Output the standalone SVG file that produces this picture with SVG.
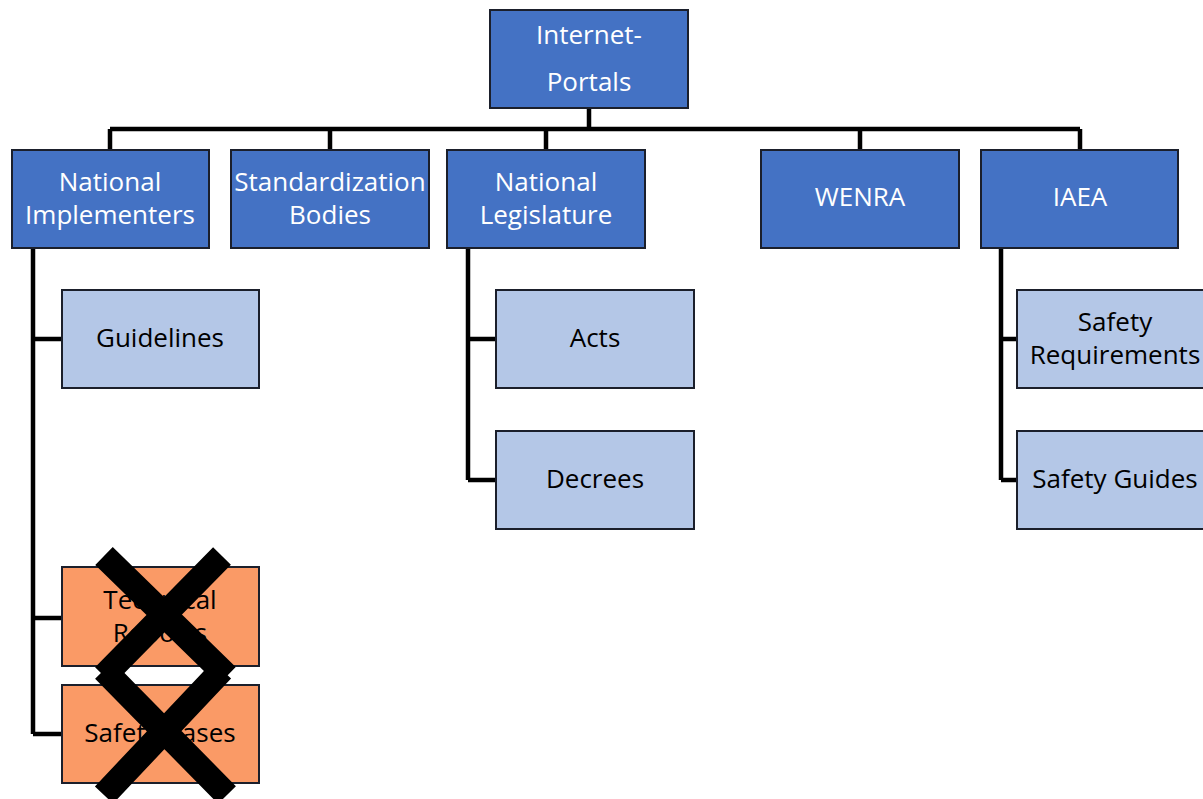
<svg xmlns="http://www.w3.org/2000/svg" width="1203" height="799" viewBox="0 0 1203 799">
<style>
.d{fill:#4472C4;stroke:#1b1f2b;stroke-width:2}
.l{fill:#B4C7E7;stroke:#1b1f2b;stroke-width:2}
.o{fill:#FA9A66;stroke:#1b1f2b;stroke-width:2}
.c{fill:none;stroke:#000;stroke-width:4.5}
text{font-family:"Open Sans","Liberation Sans",sans-serif;font-size:26px;text-anchor:middle}
.w{fill:#fff}
.k{fill:#000}
.x{stroke:#000;stroke-width:25;stroke-linecap:butt}
</style>
<rect width="1203" height="799" fill="#fff"/>
<g id="connectors">
<path class="c" d="M589,108V129M110,129H1080M110,129V150M330,129V150M546,129V150M860,129V150M1080,129V150"/>
<path class="c" d="M33,248V734M33,339H62M33,618H62M33,734H62"/>
<path class="c" d="M468,248V480M468,339H496M468,480H496"/>
<path class="c" d="M1001,248V480M1001,339H1017M1001,480H1017"/>
</g>
<g id="internet-portals"><rect class="d" x="490" y="10" width="198" height="98"/><text class="w" x="589" y="44">Internet-</text><text class="w" x="589" y="91">Portals</text></g>
<g id="national-implementers"><rect class="d" x="12" y="150" width="197" height="98"/><text class="w" x="110" y="191">National</text><text class="w" x="110" y="224">Implementers</text></g>
<g id="standardization-bodies"><rect class="d" x="231" y="150" width="198" height="98"/><text class="w" x="330" y="191">Standardization</text><text class="w" x="330" y="224">Bodies</text></g>
<g id="national-legislature"><rect class="d" x="447" y="150" width="198" height="98"/><text class="w" x="546" y="191">National</text><text class="w" x="546" y="224">Legislature</text></g>
<g id="wenra"><rect class="d" x="761" y="150" width="198" height="98"/><text class="w" x="860" y="206">WENRA</text></g>
<g id="iaea"><rect class="d" x="981" y="150" width="197" height="98"/><text class="w" x="1080" y="206">IAEA</text></g>
<g id="guidelines"><rect class="l" x="62" y="290" width="197" height="98"/><text class="k" x="160" y="347">Guidelines</text></g>
<g id="acts"><rect class="l" x="496" y="290" width="198" height="98"/><text class="k" x="595" y="347">Acts</text></g>
<g id="decrees"><rect class="l" x="496" y="431" width="198" height="98"/><text class="k" x="595" y="488">Decrees</text></g>
<g id="safety-requirements"><rect class="l" x="1017" y="290" width="198" height="98"/><text class="k" x="1115" y="331">Safety</text><text class="k" x="1115" y="364">Requirements</text></g>
<g id="safety-guides"><rect class="l" x="1017" y="431" width="198" height="98"/><text class="k" x="1115" y="488">Safety Guides</text></g>
<g id="technical-reports"><rect class="o" x="62" y="567" width="197" height="99"/><text class="k" x="160" y="609">Technical</text><text class="k" x="160" y="642">Reports</text></g>
<g id="safety-cases"><rect class="o" x="62" y="685" width="197" height="98"/><text class="k" x="160" y="742">Safety Cases</text></g>
<g id="crosses">
<path class="x" d="M104,556L227,676M222,556L104,676"/>
<path class="x" d="M104,670L227,795M222,670L104,795"/>
</g>
</svg>
